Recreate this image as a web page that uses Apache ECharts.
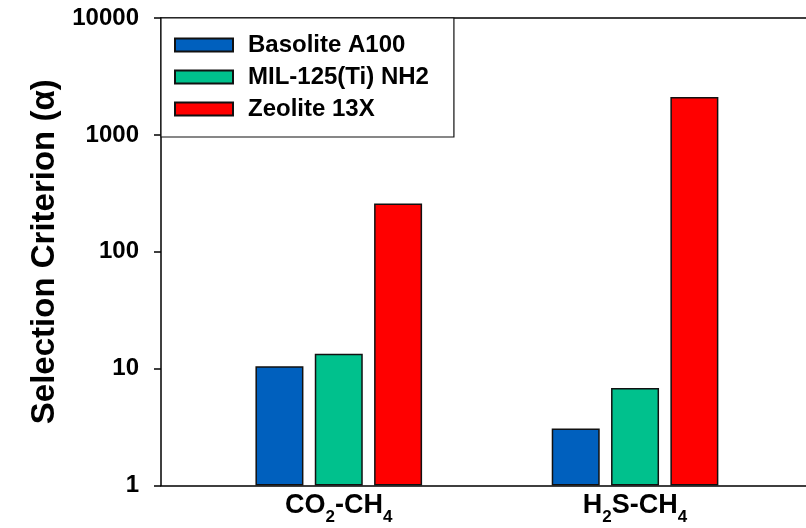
<!DOCTYPE html>
<html>
<head>
<meta charset="utf-8">
<script src="https://cdn.jsdelivr.net/npm/echarts@6/dist/echarts.min.js"></script>
<style>
  html, body { margin: 0; padding: 0; background: #fff; }
  #chart { width: 806px; height: 528px; }
</style>
</head>
<body>
<div id="chart"></div>
<script>
// ---- data ----
const categories = ['CO2-CH4', 'H2S-CH4'];
const categoryLabels = ['{m|CO}{s|2}{m|-CH}{s|4}', '{m|H}{s|2}{m|S-CH}{s|4}'];
const seriesNames = ['Basolite A100', 'MIL-125(Ti) NH2', 'Zeolite 13X'];
const basoliteA100 = [10.5, 3.07];
const mil125NH2 = [13.4, 6.84];
const zeolite13X = [259, 2113];
const yTicks = [1, 10, 100, 1000, 10000];
const yTitle = 'Selection Criterion (\u03b1)';

// ---- styles ----
const colors = ['#0060BE', '#00C18D', '#FF0000'];
const FONT = "'Liberation Sans', Arial, Helvetica, sans-serif";
const xMin = -0.6, xMax = 1.577;

const values = [basoliteA100, mil125NH2, zeolite13X];
const chart = echarts.init(document.getElementById('chart'), null, { renderer: 'canvas' });

const series = seriesNames.map((name, i) => ({
  name: name,
  type: 'bar',
  xAxisIndex: 0,
  yAxisIndex: 0,
  barWidth: 48,
  barGap: '23.6%',
  data: categories.map((c, j) => [j, values[i][j]]),
  itemStyle: { color: colors[i], borderColor: '#111', borderWidth: 1.5 },
  emphasis: { disabled: true },
  animation: false
}));

chart.setOption({
  animation: false,
  backgroundColor: '#fff',
  grid: { left: 161, top: 18, right: 0, bottom: 42.5, containLabel: false },
  legend: {
    orient: 'vertical',
    left: 161,
    top: 18,
    padding: [15, 25, 16, 13],
    itemGap: 8,
    itemWidth: 58,
    itemHeight: 13,
    backgroundColor: '#fff',
    borderColor: '#111',
    borderWidth: 1.2,
    borderRadius: 0,
    icon: 'rect',
    selectedMode: false,
    textStyle: {
      fontFamily: FONT, fontWeight: 'bold', fontSize: 24, color: '#000',
      lineHeight: 24, padding: [0, 0, 0, 10]
    },
    data: seriesNames
  },
  xAxis: [
    {
      type: 'value',
      min: xMin, max: xMax,
      position: 'bottom',
      splitLine: { show: false },
      axisLine: { show: true, onZero: false, lineStyle: { color: '#000', width: 1.5 } },
      axisTick: { show: false },
      axisLabel: {
        show: true,
        customValues: categories.map((c, j) => j),
        margin: 7,
        formatter: function (v) { return categoryLabels[Math.round(v)] || ''; },
        rich: {
          m: { fontFamily: FONT, fontWeight: 'bold', fontSize: 27, color: '#000', lineHeight: 30, verticalAlign: 'top' },
          s: { fontFamily: FONT, fontWeight: 'bold', fontSize: 17, color: '#000', lineHeight: 17, verticalAlign: 'top', padding: [16, 0, 0, 0] }
        }
      }
    },
    {
      type: 'value',
      min: xMin, max: xMax,
      position: 'top',
      splitLine: { show: false },
      axisLine: { show: true, onZero: false, lineStyle: { color: '#000', width: 1.5 } },
      axisTick: { show: false },
      axisLabel: { show: false }
    }
  ],
  yAxis: {
    type: 'log',
    logBase: 10,
    min: 1,
    max: 10000,
    name: yTitle,
    nameLocation: 'middle',
    nameRotate: 90,
    nameGap: 94,
    nameTextStyle: { fontFamily: FONT, fontWeight: 'bold', fontSize: 33, color: '#000' },
    splitLine: { show: false },
    minorTick: { show: false },
    axisLine: { show: true, onZero: false, lineStyle: { color: '#000', width: 1.5 } },
    axisTick: { show: true, inside: false, length: 7, lineStyle: { color: '#000', width: 1.5 }, customValues: yTicks },
    axisLabel: {
      show: true,
      customValues: yTicks,
      margin: 22,
      fontFamily: FONT, fontWeight: 'bold', fontSize: 24, color: '#000',
      formatter: function (v) { return String(Math.round(v)); }
    }
  },
  series: series
});
</script>
</body>
</html>
